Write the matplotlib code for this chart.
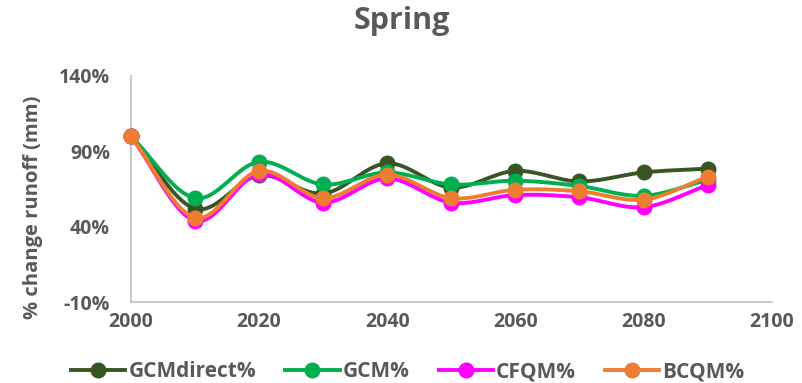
import numpy as np
import matplotlib.pyplot as plt
from matplotlib.ticker import FuncFormatter

plt.rcParams['font.family'] = ['Open Sans', 'DejaVu Sans']
plt.rcParams['font.weight'] = 'bold'

years = [2000, 2010, 2020, 2030, 2040, 2050, 2060, 2070, 2080, 2090]
gcm_direct = [100, 52, 74, 62, 82, 66, 77, 70, 76, 78.5]
gcm = [100, 59, 83, 68, 76, 68, 70.5, 67, 60.5, 71]
cfqm = [100, 44, 75, 56, 72, 56, 61, 59.5, 53, 67.5]
bcqm = [100, 46, 77, 59, 74.5, 59, 64.5, 63.5, 58, 73]

series = [
    ("GCMdirect%", gcm_direct, "#375623"),
    ("GCM%", gcm, "#00B050"),
    ("CFQM%", cfqm, "#FF00FF"),
    ("BCQM%", bcqm, "#ED7D31"),
]

TXT = "#595959"


def smooth(x, y, n=20):
    # catmull-rom through the points, like a spreadsheet "smoothed line"
    x = np.asarray(x, float)
    y = np.asarray(y, float)
    px = np.concatenate([[2 * x[0] - x[1]], x, [2 * x[-1] - x[-2]]])
    py = np.concatenate([[2 * y[0] - y[1]], y, [2 * y[-1] - y[-2]]])
    xs, ys = [], []
    t = np.linspace(0, 1, n, endpoint=False)
    for i in range(1, len(px) - 2):
        for arr, out in ((px, xs), (py, ys)):
            p0, p1, p2, p3 = arr[i - 1:i + 3]
            out.extend(0.5 * (2 * p1 + (-p0 + p2) * t
                              + (2 * p0 - 5 * p1 + 4 * p2 - p3) * t ** 2
                              + (-p0 + 3 * p1 - 3 * p2 + p3) * t ** 3))
    xs.append(x[-1])
    ys.append(y[-1])
    return np.array(xs), np.array(ys)


fig = plt.figure(figsize=(8.03, 3.83), dpi=100)
ax = fig.add_axes([0.163, 0.211, 0.798, 0.591])

for i, (name, vals, col) in enumerate(series):
    sx, sy = smooth(years, vals)
    ax.plot(sx, sy, color=col, lw=2.8, zorder=2 + i, clip_on=False)
    ax.plot(years, vals, 'o', color=col, ms=10.5, zorder=2 + i, clip_on=False)
    ax.plot([], [], '-o', color=col, lw=2.8, ms=10.5, label=name)

ax.set_xlim(2000, 2100)
ax.set_ylim(-10, 140)
ax.set_xticks(range(2000, 2101, 20))
ax.set_yticks([-10, 40, 90, 140])
ax.yaxis.set_major_formatter(FuncFormatter(lambda v, _: f"{v:.0f}%"))
ax.tick_params(length=0, labelsize=14, colors=TXT)
ax.tick_params(axis='y', pad=15)
ax.tick_params(axis='x', pad=7)
for lab in ax.get_xticklabels() + ax.get_yticklabels():
    lab.set_fontweight('bold')

for s in ("top", "right"):
    ax.spines[s].set_visible(False)
for s in ("left", "bottom"):
    ax.spines[s].set_color("#BFBFBF")
    ax.spines[s].set_linewidth(1.2)

ax.set_ylabel("% change runoff (mm)", fontsize=14.5, color=TXT,
              fontweight='bold', va='center')
ax.yaxis.set_label_coords(-0.152, 0.42)
fig.suptitle("Spring", x=0.5, y=0.985, fontsize=22, color=TXT,
             fontweight='bold')

fig.legend(loc="center", bbox_to_anchor=(0.508, 0.03), ncol=4,
           frameon=False, handlelength=2.6, columnspacing=1.4,
           handletextpad=0.15, labelcolor=TXT,
           prop={'weight': 'bold', 'size': 15})

fig.savefig("out.png", dpi=100)
